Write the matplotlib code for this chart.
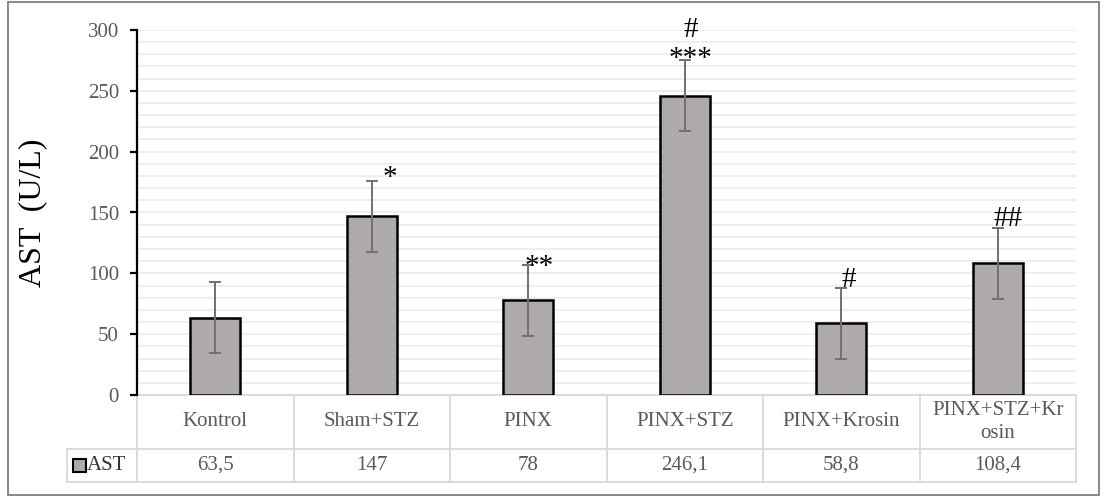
import matplotlib
matplotlib.use("Agg")
import matplotlib.pyplot as plt
import matplotlib.transforms as mtransforms
from matplotlib.patches import Rectangle
from matplotlib.lines import Line2D
import numpy as np

plt.rcParams['font.family'] = ['Liberation Serif', 'DejaVu Serif']

# ---- data ----
categories = ["Kontrol", "Sham+STZ", "PINX", "PINX+STZ", "PINX+Krosin", "PINX+STZ+Kr\nosin"]
series_name = "AST"
values = [63.5, 147, 78, 246.1, 58.8, 108.4]
errors = [29.2, 29.2, 29.2, 29.2, 29.2, 29.2]
# significance marks: (category index, text)
marks = [(1, "*"), (2, "**"), (3, "***"), (3, "#"), (4, "#"), (5, "##")]
y_ticks = [0, 50, 100, 150, 200, 250, 300]
y_label = "AST  (U/L)"

# ---- style / layout ----
W, H = 1105, 497
fig = plt.figure(figsize=(W / 100, H / 100), dpi=100)
ax_left, ax_right, ax_top, ax_bot = 137, 1076, 30, 395
ax = fig.add_axes([ax_left / W, (H - ax_bot) / H, (ax_right - ax_left) / W, (ax_bot - ax_top) / H])

bar_color = "#AEAAAA"
grid_color = "#EDEDED"
tick_color = "#595959"
table_color = "#D9D9D9"
fs = 15

x = np.arange(len(categories))
ax.bar(x, values, width=0.32, color=bar_color, edgecolor="black", linewidth=1.8, zorder=3)
ax.errorbar(x, values, yerr=errors, fmt="none", ecolor="#707070", elinewidth=1.4,
            capsize=4.5, capthick=1.4, zorder=4)

ax.set_xlim(-0.5, len(categories) - 0.5)
ax.set_ylim(0, 300)
ax.set_yticks(y_ticks)
ax.set_yticks(np.arange(0, 301, 10), minor=True)
ax.yaxis.grid(True, which="both", color=grid_color, linewidth=1.3, zorder=0)
ax.set_axisbelow(True)
for s in ["top", "right", "bottom"]:
    ax.spines[s].set_visible(False)
ax.spines["left"].set_linewidth(1.6)
ax.spines["left"].set_color("black")
ax.tick_params(axis="y", which="major", direction="out", length=5, width=1.6, color="black",
               labelsize=fs, labelcolor=tick_color, pad=8)
ax.tick_params(axis="y", which="minor", length=0)
ax.set_xticks([])
ax.set_ylabel(y_label, fontsize=23, color="black", labelpad=20)
ax.yaxis.set_label_coords((47 - ax_left) / (ax_right - ax_left), 0.5)

# significance marks (offsets in pixels from the error-bar cap)
mark_offsets = {(1, "*"): (18, -4), (2, "**"): (11, -9), (3, "***"): (6, -6),
                (3, "#"): (6, 23), (4, "#"): (8, 1), (5, "##"): (10, 2)}
for i, t in marks:
    dx, dy = mark_offsets[(i, t)]
    ax.annotate(t, xy=(x[i], values[i] + errors[i]), xytext=(dx, dy), textcoords="offset pixels",
                ha="center", va="baseline", fontsize=21, color="black", zorder=5,
                annotation_clip=False)

# ---- data table below the axis ----
trans = mtransforms.blended_transform_factory(ax.transData, ax.transAxes)
px = 1.0 / (ax_bot - ax_top)
y_row1 = -(449 - ax_bot) * px
y_row2 = -(482 - ax_bot) * px
x_leg = -0.5 + (67 - ax_left) / ((ax_right - ax_left) / len(categories))
x_end = len(categories) - 0.5

def hline(y, x0, x1):
    ax.add_line(Line2D([x0, x1], [y, y], transform=trans, color=table_color, lw=1.3, clip_on=False, zorder=2))

def vline(xv, y0, y1):
    ax.add_line(Line2D([xv, xv], [y0, y1], transform=trans, color=table_color, lw=1.3, clip_on=False, zorder=2))

hline(0, -0.5, x_end)
hline(y_row1, x_leg, x_end)
hline(y_row2, x_leg, x_end)
for k in range(len(categories) + 1):
    vline(-0.5 + k, 0, y_row2)
vline(x_leg, y_row1, y_row2)

for i, c in enumerate(categories):
    ax.text(x[i], (0 + y_row1) / 2, c, transform=trans, ha="center", va="center",
            fontsize=fs, color=tick_color, linespacing=1.3)
    ax.text(x[i], (y_row1 + y_row2) / 2, f"{values[i]:g}".replace(".", ","), transform=trans,
            ha="center", va="center", fontsize=fs, color=tick_color)

# legend key in the table
fig.patches.append(Rectangle((73 / W, (H - 472) / H), 13 / W, 13 / H, transform=fig.transFigure,
                             facecolor=bar_color, edgecolor="black", linewidth=1.5))
fig.text(87 / W, (H - 465.5) / H, series_name, ha="left", va="center", fontsize=fs, color="#333333")

# outer chart border
fig.patches.append(Rectangle((8 / W, 2 / H), (1099 - 8) / W, (495 - 2) / H, transform=fig.transFigure,
                             facecolor="none", edgecolor="#7F7F7F", linewidth=1.3))

fig.savefig("out.png", dpi=100)
